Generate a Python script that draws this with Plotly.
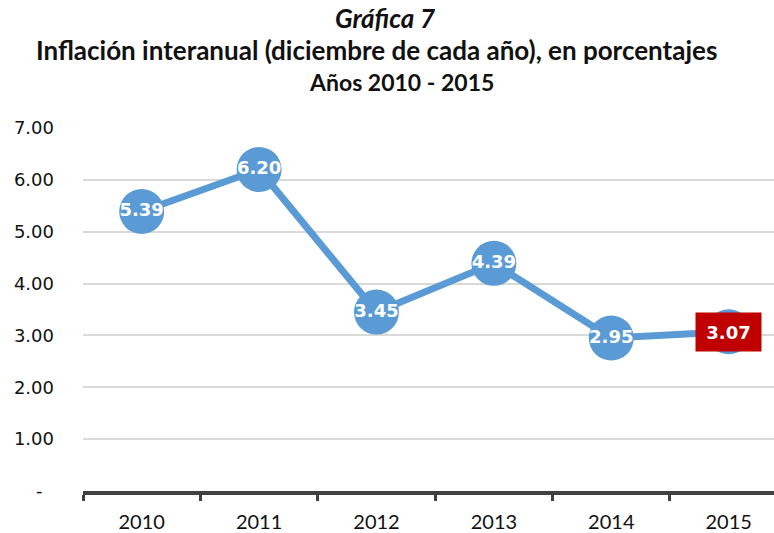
import plotly.graph_objects as go

years = ["2010", "2011", "2012", "2013", "2014", "2015"]
inflation = [5.39, 6.20, 3.45, 4.39, 2.95, 3.07]
labels = ["5.39", "6.20", "3.45", "4.39", "2.95", ""]
highlight_year = "2015"
highlight_value = 3.07
highlight_label = "3.07"
y_ticks = [0, 1, 2, 3, 4, 5, 6, 7]
y_tick_text = ["-\u00a0\u00a0", "1.00", "2.00", "3.00", "4.00", "5.00", "6.00", "7.00"]

title_lines = [
    "<b><i>Gráfica 7</i></b>",
    "<b>Inflación interanual (diciembre de cada año), en porcentajes</b>",
    "<b>Años 2010 - 2015</b>",
]
title_sizes = [26, 26, 23]

blue = "#5B9BD5"
L, T, B = 83, 128, 42
W, H = 774, 533
plot_w = W - L
plot_h = H - T - B

fig = go.Figure()
fig.add_trace(go.Scatter(
    x=years, y=inflation, mode="lines+markers+text",
    line=dict(color=blue, width=7),
    marker=dict(color=blue, size=45),
    text=labels, textposition="middle center",
    textfont=dict(family="DejaVu Sans", size=18, color="white", weight="bold"),
    cliponaxis=False, hoverinfo="skip",
))

fig.add_annotation(
    x=years.index(highlight_year), y=highlight_value, xref="x", yref="y",
    text="<b>" + highlight_label + "</b>", showarrow=False,
    font=dict(family="DejaVu Sans", size=18, color="white"),
    bgcolor="#C00000", borderpad=8, width=49, height=22,
    xanchor="center", yanchor="middle",
)

centers_px = [(385, 18), (376, 50), (401, 82)]
for t, s, (cx, cy) in zip(title_lines, title_sizes, centers_px):
    fig.add_annotation(
        x=(cx - L) / plot_w, y=1 + (T - cy) / plot_h, xref="paper", yref="paper",
        text=t, showarrow=False,
        font=dict(family="Lato", size=s, color="#111111"),
        xanchor="center", yanchor="middle",
    )

fig.update_layout(
    width=W, height=H,
    margin=dict(l=L, r=0, t=T, b=B),
    paper_bgcolor="white", plot_bgcolor="white",
    showlegend=False,
    xaxis=dict(
        type="category", range=[-0.5, 5.386],
        showline=True, linecolor="#404040", linewidth=4,
        ticks="outside", tickson="boundaries", ticklen=6, tickwidth=3, tickcolor="#404040",
        showgrid=False, zeroline=False,
        tickfont=dict(family="Lato", size=20, color="#111111"),
        ticklabelstandoff=10,
    ),
    yaxis=dict(
        range=[0, 7], tickvals=y_ticks, ticktext=y_tick_text,
        showgrid=True, gridcolor="#D9D9D9", gridwidth=2,
        zeroline=False, showline=False, ticks="",
        tickfont=dict(family="DejaVu Sans", size=18, color="#111111"),
        ticklabelstandoff=28,
    ),
)

fig.write_html(
    "out.html",
    config={"displayModeBar": False},
    post_script="document.body.style.margin='0';document.body.style.overflow='hidden';",
)
